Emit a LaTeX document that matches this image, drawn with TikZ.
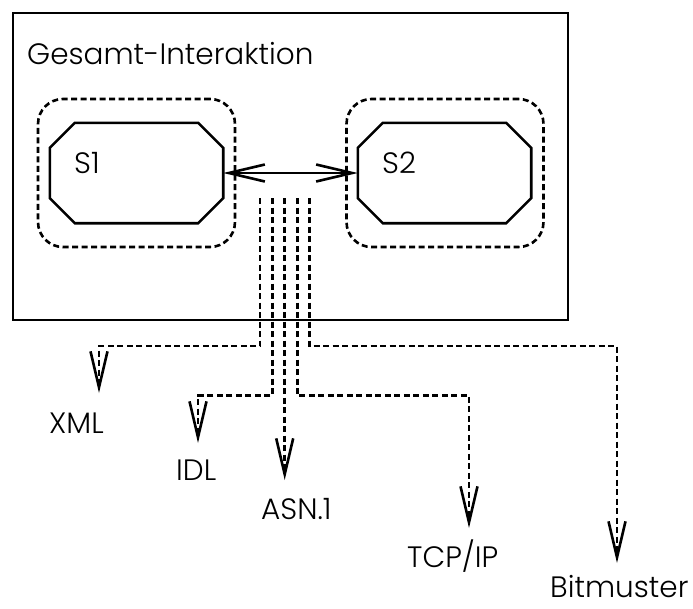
\documentclass[tikz,border=0pt]{standalone}
\usepackage{fontspec}
\setmainfont{Poppins Light}
\usetikzlibrary{arrows.meta}
\begin{document}
\begin{tikzpicture}[x=1pt,y=-1pt,
  frame/.style={draw,line width=2.6pt},
  holder/.style={draw,line width=2.6pt,dash pattern=on 6pt off 3.5pt,rounded corners=25pt,
    minimum width=197pt,minimum height=148pt,inner sep=0pt},
  slot/.style={minimum width=173pt,minimum height=100pt,inner sep=0pt},
  octo/.style={draw,line width=2.6pt,line join=miter},
  lbl/.style={anchor=base west,inner sep=0pt,text depth=0pt,font=\fontsize{29.5}{35}\selectfont},
  vtip/.tip={Straight Barb[length=36pt,width=17pt,line width=2.6pt]},
  link/.style={line width=2.6pt,-{vtip}},
  route/.style={line width=2.6pt,dash pattern=on 6pt off 3.5pt,-{vtip}}]
\useasboundingbox (0,0) rectangle (693,608);

% outer frame with its title
\draw[frame] (13,13) rectangle (568,320);
\node[lbl] (title) at (27,64) {Gesamt-Interaktion};

% the two subsystems: dashed holder, octagonal body, name
\node[holder] (h1) at (136.5,173) {};
\node[holder] (h2) at (445,173) {};
\node[slot] (s1) at (136.5,173) {};
\node[slot] (s2) at (444.5,173) {};
\foreach \s in {s1,s2}{
  \draw[octo] ([xshift=25pt]\s.north west) -- ([xshift=-25pt]\s.north east)
    -- ([yshift=-25pt]\s.north east) -- ([yshift=25pt]\s.south east)
    -- ([xshift=-25pt]\s.south east) -- ([xshift=25pt]\s.south west)
    -- ([yshift=25pt]\s.south west) -- ([yshift=-25pt]\s.north west) -- cycle;
}
\node[lbl] (n1) at (74,173) {S1};
\node[lbl] (n2) at (382,173) {S2};

% interaction between the subsystems
\draw[link,{vtip}-{vtip}] (s1.east) -- (s2.west);

% representations
\node[lbl] (xml) at (49,433) {XML};
\node[lbl] (idl) at (176,480) {IDL};
\node[lbl] (asn) at (261,519) {ASN.1};
\node[lbl] (tcp) at (407,567) {TCP/IP};
\node[lbl] (bit) at (550,597) {Bitmuster};

\coordinate (d1) at (260,198);
\coordinate (d2) at (272.3,198);
\coordinate (d3) at (284.7,198);
\coordinate (d4) at (297.3,198);
\coordinate (d5) at (309.7,198);

\coordinate (c1) at (99,346);
\coordinate (c2) at (198,395.5);
\coordinate (c4) at (469,395.5);
\coordinate (c5) at (617,346);

\coordinate (t1) at (99,393);
\coordinate (t2) at (198,443);
\coordinate (t3) at (284.7,480);
\coordinate (t4) at (469,528);
\coordinate (t5) at (617,563);

\draw[route] (d1) |- (c1) -- (t1);
\draw[route] (d2) |- (c2) -- (t2);
\draw[route] (d3) -- (t3);
\draw[route] (d4) |- (c4) -- (t4);
\draw[route] (d5) |- (c5) -- (t5);
\end{tikzpicture}
\end{document}
